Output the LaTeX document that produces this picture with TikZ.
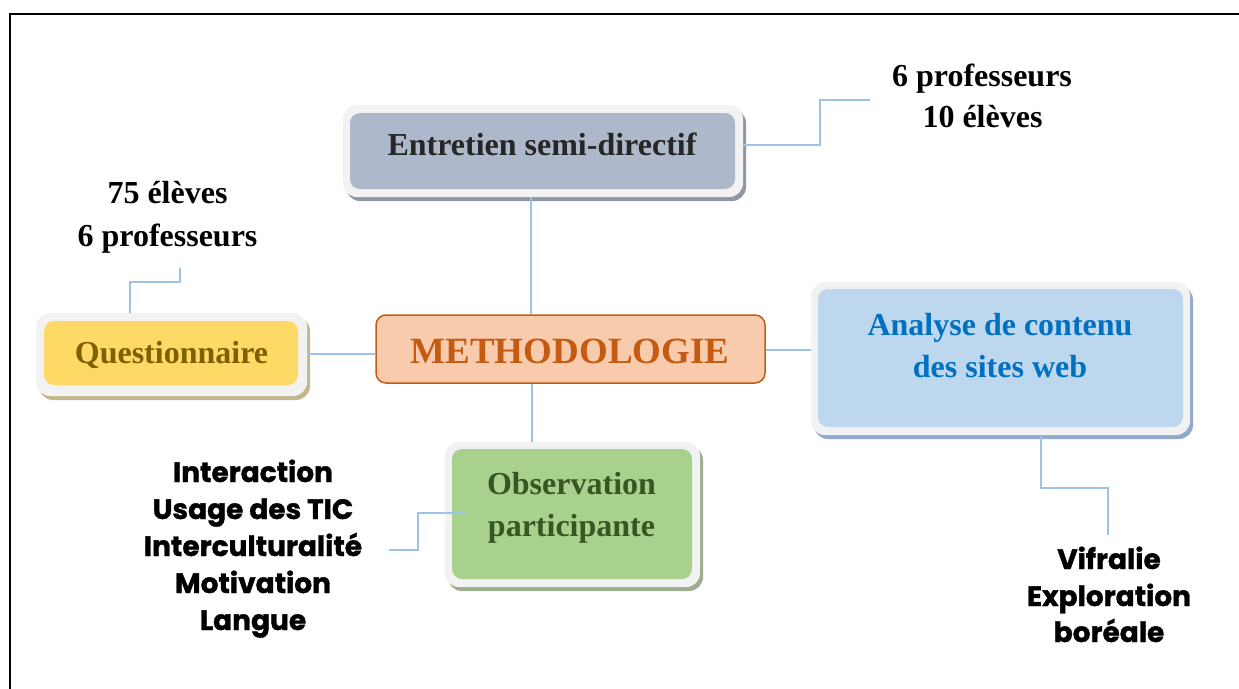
\documentclass[tikz,border=0pt]{standalone}
\usepackage{fontspec}
\setmainfont{Liberation Serif}
\newfontfamily\listfam{Poppins}[BoldFeatures={FakeBold=1.2}]
\newcommand\boxfont{\fontsize{32}{38}\selectfont\bfseries}
\newcommand\metfont{\fontsize{37}{44}\selectfont\bfseries}
\newcommand\listfont{\listfam\fontsize{28}{33}\selectfont\bfseries}
\definecolor{framegray}{HTML}{F2F2F2}
\definecolor{entfill}{HTML}{ADB9CA}
\definecolor{entshadow}{HTML}{8E97A3}
\definecolor{quesfill}{HTML}{FFD966}
\definecolor{questext}{HTML}{7F6000}
\definecolor{quesshadow}{HTML}{C4B68C}
\definecolor{metfill}{HTML}{F8CBAD}
\definecolor{metline}{HTML}{C55A11}
\definecolor{anafill}{HTML}{BDD7EE}
\definecolor{anatext}{HTML}{0070C0}
\definecolor{anashadow}{HTML}{8FAACC}
\definecolor{obsfill}{HTML}{A9D18E}
\definecolor{obstext}{HTML}{375623}
\definecolor{obsshadow}{HTML}{9CAE90}
\definecolor{connblue}{HTML}{9DC3E6}
\tikzset{
  outerbox/.style={rounded corners=14pt, fill=framegray, inner sep=0pt,
    preaction={fill=#1, transform canvas={shift={(3pt,-4pt)}}}},
  innerbox/.style={rounded corners=10pt, fill=#1, inner sep=0pt},
  conn/.style={draw=connblue, line width=2pt},
  lbl/.style={anchor=base, inner sep=0pt}
}
\begin{document}
\begin{tikzpicture}[x=1pt,y=-1pt]
\useasboundingbox (0,0) rectangle (1239,688);
% page frame
\draw[line width=2.5pt] (10,720) -- (10,14) -- (1260,14);

% Entretien
\node[outerbox=entshadow, minimum width=400pt, minimum height=92pt] (ent) at (543,151) {};
\node[innerbox=entfill, minimum width=385pt, minimum height=76pt] (entI) at (542.5,151) {};
\node[lbl, text=black!85] (entT) at (542,155) {\boxfont Entretien semi-directif};

% Questionnaire
\node[outerbox=quesshadow, minimum width=271pt, minimum height=83pt] (ques) at (171.5,354.5) {};
\node[innerbox=quesfill, minimum width=254pt, minimum height=64pt] (quesI) at (171,353) {};
\node[lbl, text=questext] (quesT) at (171.5,363) {\boxfont Questionnaire};

% METHODOLOGIE
\node[draw=metline, line width=1.5pt, fill=metfill, rounded corners=10pt, inner sep=0pt,
      minimum width=389pt, minimum height=68pt] (met) at (570.5,349) {};
\node[lbl, text=metline] (metT) at (570,363) {\metfont METHODOLOGIE};

% Analyse
\node[outerbox=anashadow, minimum width=379pt, minimum height=153pt] (ana) at (1000.5,358.5) {};
\node[innerbox=anafill, minimum width=365pt, minimum height=138pt] (anaI) at (1000.5,358) {};
\node[lbl, text=anatext] (anaT1) at (1000,335) {\boxfont Analyse de contenu};
\node[lbl, text=anatext] (anaT2) at (1000,377) {\boxfont des sites web};

% Observation
\node[outerbox=obsshadow, minimum width=255pt, minimum height=145pt] (obs) at (572.5,514.5) {};
\node[innerbox=obsfill, minimum width=240pt, minimum height=130pt] (obsI) at (572,514) {};
\node[lbl, text=obstext] (obsT1) at (571.5,494) {\boxfont Observation};
\node[lbl, text=obstext] (obsT2) at (571.5,536) {\boxfont participante};

% side labels
\node[lbl] (pA1) at (982,86) {\boxfont 6 professeurs};
\node[lbl] (pA2) at (982.5,127) {\boxfont 10 élèves};
\node[lbl] (pB1) at (167.5,203) {\boxfont 75 élèves};
\node[lbl] (pB2) at (167.5,246) {\boxfont 6 professeurs};

\node[lbl] (l1) at (253,482) {\listfont Interaction};
\node[lbl] (l2) at (253,519) {\listfont Usage des TIC};
\node[lbl] (l3) at (253,556) {\listfont Interculturalité};
\node[lbl] (l4) at (253,593) {\listfont Motivation};
\node[lbl] (l5) at (253,630) {\listfont Langue};

\node[lbl] (v1) at (1109,569) {\listfont Vifralie};
\node[lbl] (v2) at (1109,606) {\listfont Exploration};
\node[lbl] (v3) at (1109,642) {\listfont boréale};

% connector points
\coordinate (a1) at (820,145);
\coordinate (a2) at (820,100);
\coordinate (a3) at (870,100);
\coordinate (b1) at (130,282);
\coordinate (b2) at (180,282);
\coordinate (b3) at (180,268);
\coordinate (cx) at (531,0);
\coordinate (dx) at (532,0);
\coordinate (qy) at (0,354);
\coordinate (ay) at (0,350);
\coordinate (o0) at (465,513);
\coordinate (o1) at (418,513);
\coordinate (o2) at (418,550);
\coordinate (o3) at (389,550);
\coordinate (v0) at (1041,0);
\coordinate (w1) at (1041,488);
\coordinate (w2) at (1108,488);
\coordinate (w3) at (1108,535);

% connectors
\draw[conn] (ent.south -| cx) -- (met.north -| cx);
\draw[conn] (ent.east |- a1) -- (a1) -- (a2) -- (a3);
\draw[conn] (ques.north -| b1) -- (b1) -- (b2) -- (b3);
\draw[conn] (ques.east |- qy) -- (met.west |- qy);
\draw[conn] (met.east |- ay) -- (ana.west |- ay);
\draw[conn] (met.south -| dx) -- (obs.north -| dx);
\draw[conn] (o0) -- (o1) -- (o2) -- (o3);
\draw[conn] (ana.south -| v0) -- (w1) -- (w2) -- (w3);
\end{tikzpicture}
\end{document}
